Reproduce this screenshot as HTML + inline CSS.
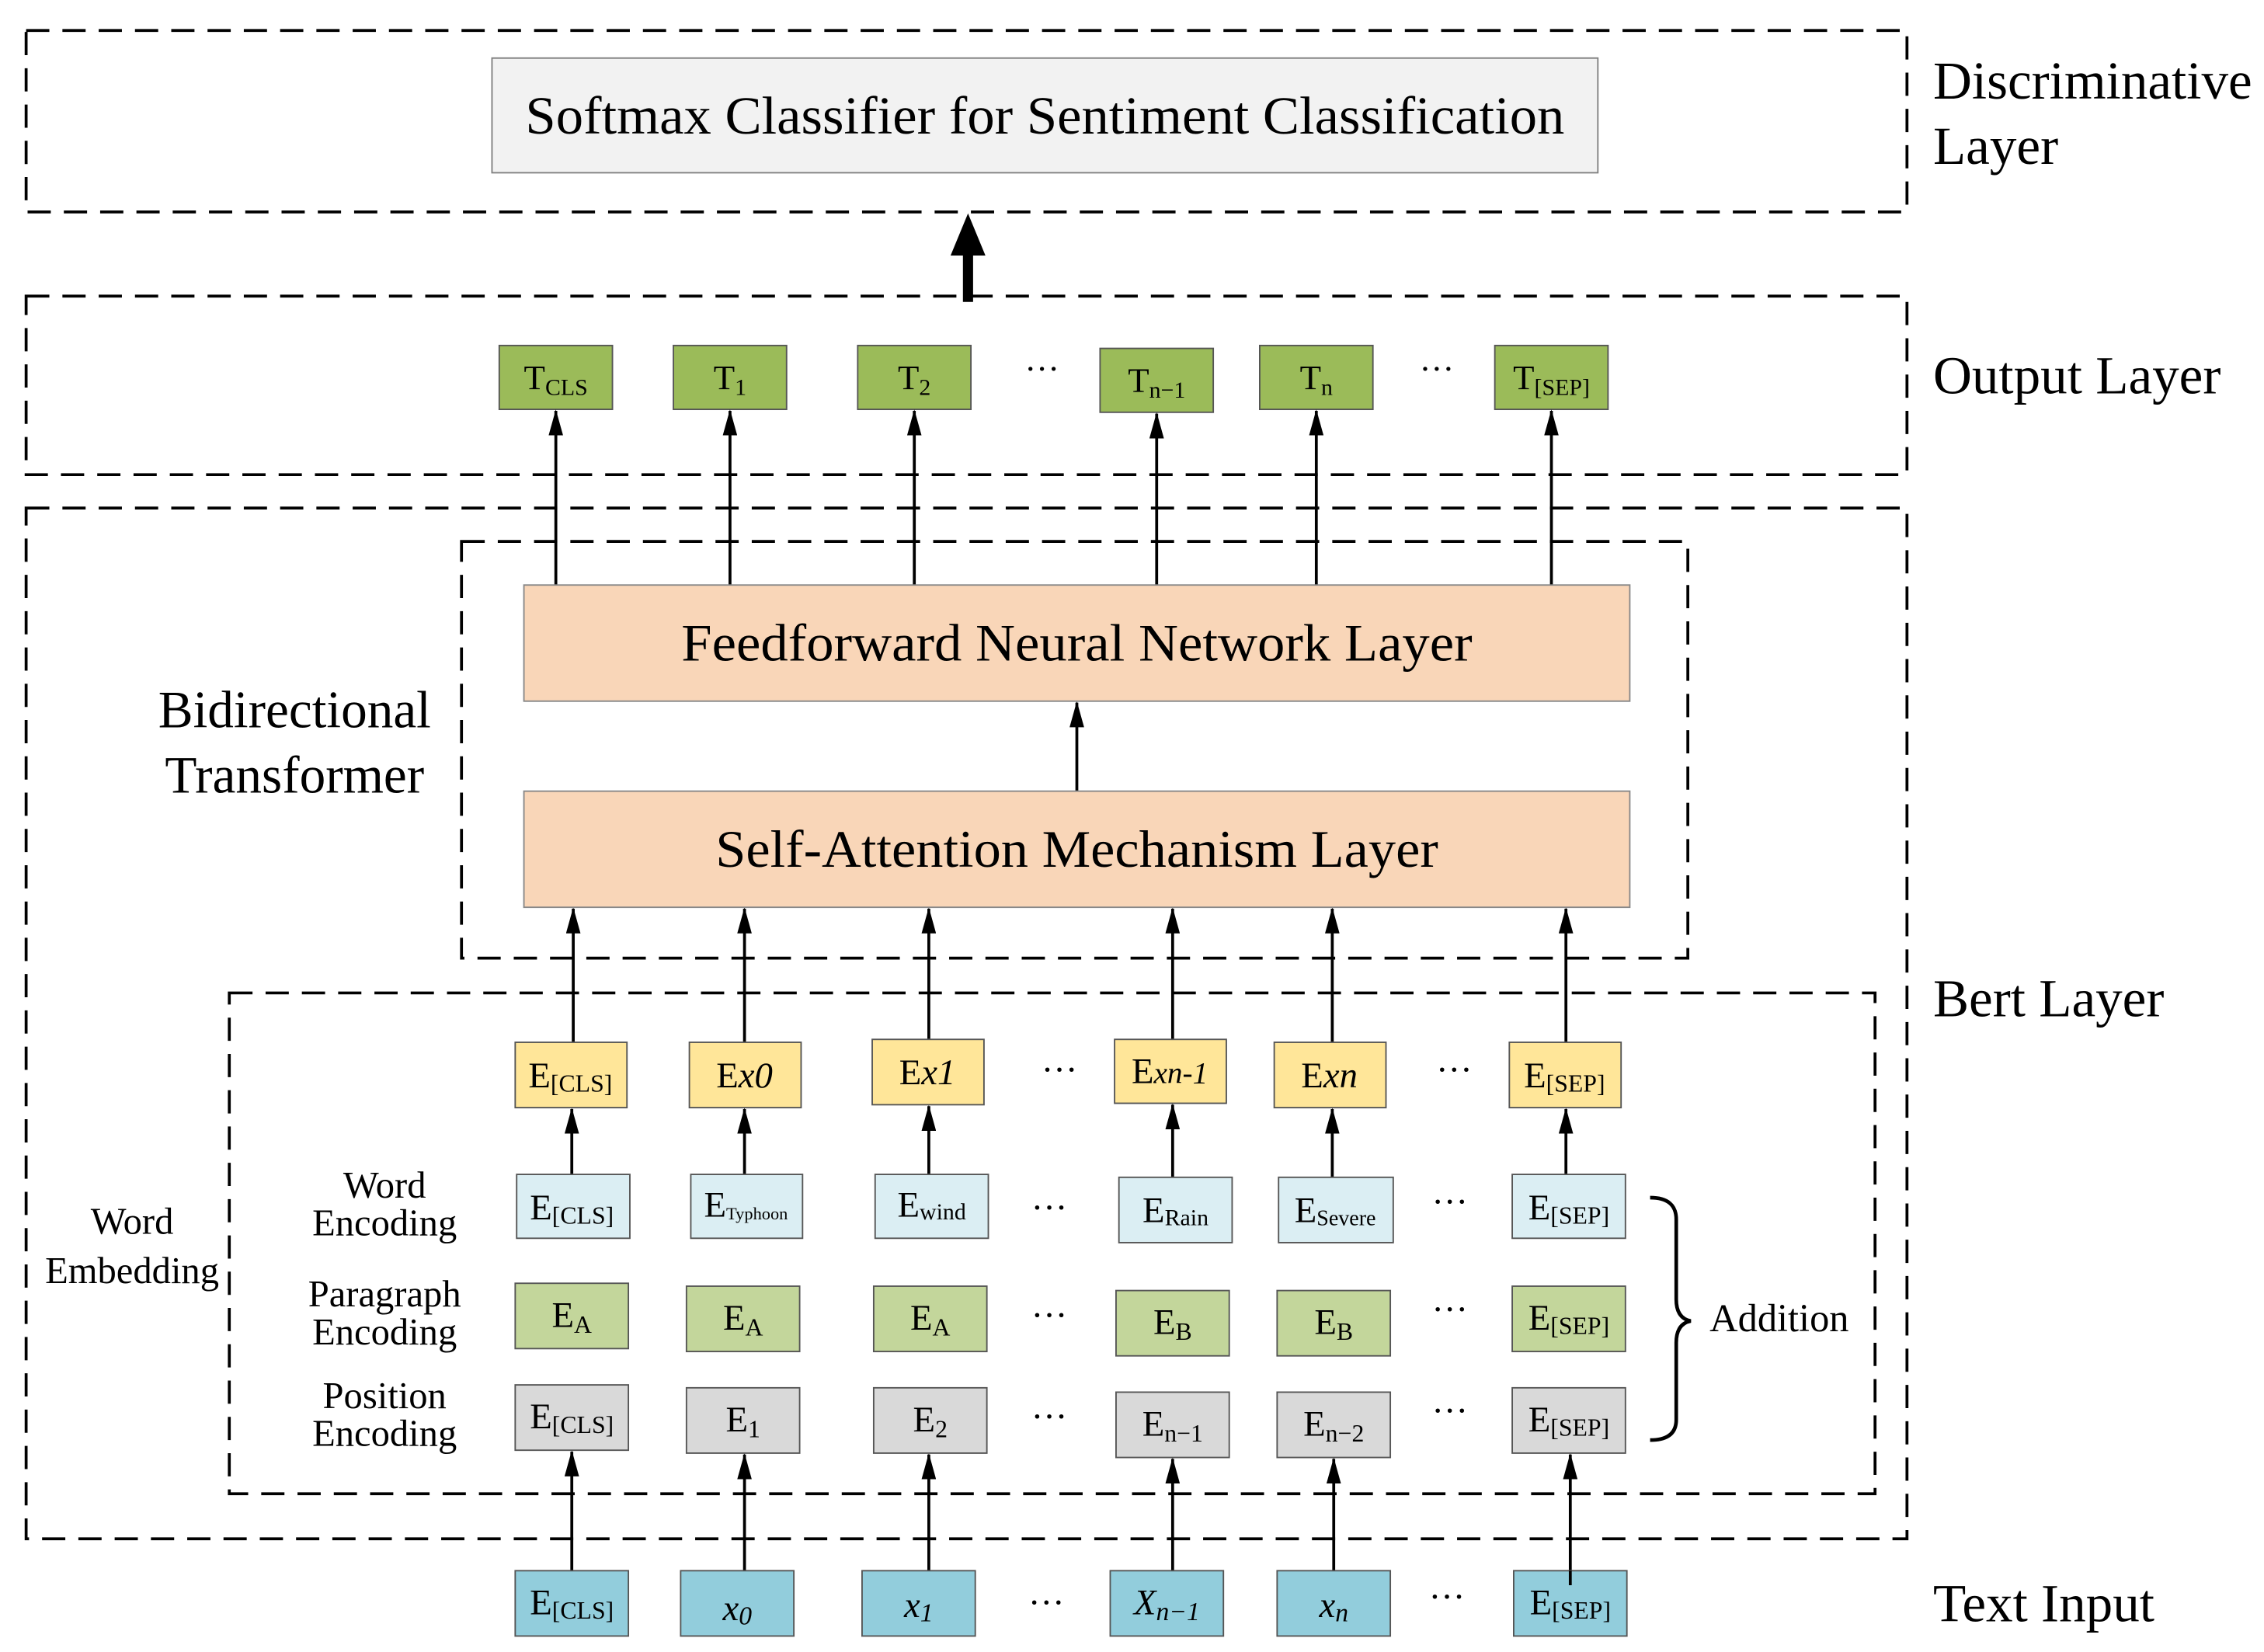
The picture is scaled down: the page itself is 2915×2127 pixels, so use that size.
<!DOCTYPE html>
<html><head><meta charset="utf-8"><style>
html,body{margin:0;padding:0;background:#fff}
svg{display:block}
text{font-family:"Liberation Serif",serif;fill:#000}
</style></head><body>
<svg width="2915" height="2127" viewBox="0 0 1560 1138" preserveAspectRatio="none" xmlns="http://www.w3.org/2000/svg">
<defs>
<marker id="ah" markerWidth="18" markerHeight="10" refX="17" refY="5" orient="auto" markerUnits="userSpaceOnUse" viewBox="0 0 18 10">
<path d="M0,0 L18,5 L0,10 Z" fill="#000"/></marker>
</defs>
<g fill="none" stroke="#000" stroke-width="2" stroke-dasharray="16,9">
<rect x="18" y="21" width="1296" height="125"/>
<rect x="18" y="204" width="1296" height="123"/>
<rect x="18" y="350" width="1296" height="710"/>
<rect x="318" y="373" width="845" height="287"/>
<rect x="158" y="684" width="1134" height="345"/>
</g>
<rect x="339" y="40" width="762" height="79" fill="#f2f2f2" stroke="#808080"/>
<text x="720" y="92" font-size="37" text-anchor="middle" textLength="716" lengthAdjust="spacingAndGlyphs">Softmax Classifier for Sentiment Classification</text>
<line x1="667" y1="208" x2="667" y2="170" stroke="#000" stroke-width="7"/>
<path d="M655,176 L667,147 L679,176 Z" fill="#000"/>
<g fill="#9bbb59" stroke="#555">
<rect x="344" y="238" width="78" height="44"/><rect x="464" y="238" width="78" height="44"/>
<rect x="591" y="238" width="78" height="44"/><rect x="758" y="240" width="78" height="44"/>
<rect x="868" y="238" width="78" height="44"/><rect x="1030" y="238" width="78" height="44"/>
</g>
<g font-size="24" text-anchor="middle">
<text x="383" y="268">T<tspan font-size="16" dy="4">CLS</tspan></text>
<text x="503" y="268">T<tspan font-size="16" dy="4">1</tspan></text>
<text x="630" y="268">T<tspan font-size="16" dy="4">2</tspan></text>
<text x="797" y="270">T<tspan font-size="16" dy="4">n−1</tspan></text>
<text x="907" y="268">T<tspan font-size="16" dy="4">n</tspan></text>
<text x="1069" y="268">T<tspan font-size="16" dy="4">[SEP]</tspan></text>
<text x="718" y="262">···</text><text x="990" y="262">···</text>
</g>
<g stroke="#000" stroke-width="2" marker-end="url(#ah)">
<line x1="383" y1="403" x2="383" y2="283"/><line x1="503" y1="403" x2="503" y2="283"/>
<line x1="630" y1="403" x2="630" y2="283"/><line x1="797" y1="403" x2="797" y2="285"/>
<line x1="907" y1="403" x2="907" y2="283"/><line x1="1069" y1="403" x2="1069" y2="283"/>
<line x1="742" y1="545" x2="742" y2="484"/>
<line x1="395" y1="718" x2="395" y2="626"/><line x1="513" y1="718" x2="513" y2="626"/>
<line x1="640" y1="716" x2="640" y2="626"/><line x1="808" y1="716" x2="808" y2="626"/>
<line x1="918" y1="718" x2="918" y2="626"/><line x1="1079" y1="718" x2="1079" y2="626"/>
<line x1="394" y1="809" x2="394" y2="764"/><line x1="513" y1="809" x2="513" y2="764"/>
<line x1="640" y1="809" x2="640" y2="762"/><line x1="808" y1="811" x2="808" y2="761"/>
<line x1="918" y1="811" x2="918" y2="764"/><line x1="1079" y1="809" x2="1079" y2="764"/>
<line x1="394" y1="1082" x2="394" y2="1000"/><line x1="513" y1="1082" x2="513" y2="1002"/>
<line x1="640" y1="1082" x2="640" y2="1002"/><line x1="808" y1="1082" x2="808" y2="1005"/>
<line x1="919" y1="1082" x2="919" y2="1005"/><line x1="1082" y1="1092" x2="1082" y2="1002"/>
</g>
<rect x="361" y="403" width="762" height="80" fill="#f9d6b8" stroke="#888"/>
<rect x="361" y="545" width="762" height="80" fill="#f9d6b8" stroke="#888"/>
<text x="742" y="455" font-size="36" text-anchor="middle" textLength="545" lengthAdjust="spacingAndGlyphs">Feedforward Neural Network Layer</text>
<text x="742" y="597" font-size="36" text-anchor="middle" textLength="498" lengthAdjust="spacingAndGlyphs">Self-Attention Mechanism Layer</text>
<g fill="#ffe699" stroke="#555">
<rect x="355" y="718" width="77" height="45"/><rect x="475" y="718" width="77" height="45"/>
<rect x="601" y="716" width="77" height="45"/><rect x="768" y="716" width="77" height="44"/>
<rect x="878" y="718" width="77" height="45"/><rect x="1040" y="718" width="77" height="45"/>
</g>
<g fill="#dbeef3" stroke="#555">
<rect x="356" y="809" width="78" height="44"/><rect x="476" y="809" width="77" height="44"/>
<rect x="603" y="809" width="78" height="44"/><rect x="771" y="811" width="78" height="45"/>
<rect x="881" y="811" width="79" height="45"/><rect x="1042" y="809" width="78" height="44"/>
</g>
<g fill="#c3d69b" stroke="#555">
<rect x="355" y="884" width="78" height="45"/><rect x="473" y="886" width="78" height="45"/>
<rect x="602" y="886" width="78" height="45"/><rect x="769" y="889" width="78" height="45"/>
<rect x="880" y="889" width="78" height="45"/><rect x="1042" y="886" width="78" height="45"/>
</g>
<g fill="#d9d9d9" stroke="#555">
<rect x="355" y="954" width="78" height="45"/><rect x="473" y="956" width="78" height="45"/>
<rect x="602" y="956" width="78" height="45"/><rect x="769" y="959" width="78" height="45"/>
<rect x="880" y="959" width="78" height="45"/><rect x="1042" y="956" width="78" height="45"/>
</g>
<g fill="#92cddc" stroke="#555">
<rect x="355" y="1082" width="78" height="45"/><rect x="469" y="1082" width="78" height="45"/>
<rect x="594" y="1082" width="78" height="45"/><rect x="765" y="1082" width="78" height="45"/>
<rect x="880" y="1082" width="78" height="45"/><rect x="1043" y="1082" width="78" height="45"/>
</g>
<line x1="1082" y1="1082" x2="1082" y2="1092" stroke="#000" stroke-width="2"/>
<g font-size="25" text-anchor="middle">
<text x="393" y="749">E<tspan font-size="17" dy="3">[CLS]</tspan></text>
<text x="513" y="749">E<tspan font-style="italic">x0</tspan></text>
<text x="639" y="747">E<tspan font-style="italic">x1</tspan></text>
<text x="806" y="746">E<tspan font-style="italic" font-size="21">xn-1</tspan></text>
<text x="916" y="749">E<tspan font-style="italic">xn</tspan></text>
<text x="1078" y="749">E<tspan font-size="17" dy="3">[SEP]</tspan></text>
<text x="730" y="745">···</text><text x="1002" y="745">···</text>

<text x="394" y="840">E<tspan font-size="17" dy="3">[CLS]</tspan></text>
<text x="514" y="838">E<tspan font-size="12" dy="2">Typhoon</tspan></text>
<text x="642" y="838">E<tspan font-size="16" dy="2">wind</tspan></text>
<text x="810" y="842">E<tspan font-size="16" dy="2">Rain</tspan></text>
<text x="920" y="842">E<tspan font-size="15" dy="2">Severe</tspan></text>
<text x="1081" y="840">E<tspan font-size="17" dy="3">[SEP]</tspan></text>
<text x="723" y="840">···</text><text x="999" y="836">···</text>

<text x="394" y="914">E<tspan font-size="17" dy="4">A</tspan></text>
<text x="512" y="916">E<tspan font-size="17" dy="4">A</tspan></text>
<text x="641" y="916">E<tspan font-size="17" dy="4">A</tspan></text>
<text x="808" y="919">E<tspan font-size="17" dy="4">B</tspan></text>
<text x="919" y="919">E<tspan font-size="17" dy="4">B</tspan></text>
<text x="1081" y="916">E<tspan font-size="17" dy="3">[SEP]</tspan></text>
<text x="723" y="914">···</text><text x="999" y="910">···</text>

<text x="394" y="984">E<tspan font-size="17" dy="3">[CLS]</tspan></text>
<text x="512" y="986">E<tspan font-size="17" dy="4">1</tspan></text>
<text x="641" y="986">E<tspan font-size="17" dy="4">2</tspan></text>
<text x="808" y="989">E<tspan font-size="17" dy="4">n−1</tspan></text>
<text x="919" y="989">E<tspan font-size="17" dy="4">n−2</tspan></text>
<text x="1081" y="986">E<tspan font-size="17" dy="3">[SEP]</tspan></text>
<text x="723" y="984">···</text><text x="999" y="980">···</text>

<text x="394" y="1112">E<tspan font-size="17" dy="3">[CLS]</tspan></text>
<text x="508" y="1116" font-style="italic">x<tspan font-size="18" dy="3">0</tspan></text>
<text x="633" y="1114" font-style="italic">x<tspan font-size="18" dy="3">1</tspan></text>
<text x="804" y="1112" font-style="italic">X<tspan font-size="18" dy="4">n−1</tspan></text>
<text x="919" y="1114" font-style="italic">x<tspan font-size="18" dy="3">n</tspan></text>
<text x="1082" y="1112">E<tspan font-size="17" dy="3">[SEP]</tspan></text>
<text x="721" y="1112">···</text><text x="997" y="1108">···</text>
</g>
<g font-size="26" text-anchor="middle">
<text x="265" y="825">Word</text><text x="265" y="851">Encoding</text>
<text x="265" y="900">Paragraph</text><text x="265" y="926">Encoding</text>
<text x="265" y="970">Position</text><text x="265" y="996">Encoding</text>
<text x="91" y="850">Word</text><text x="91" y="884">Embedding</text>
</g>
<g font-size="36" text-anchor="middle">
<text x="203" y="501">Bidirectional</text><text x="203" y="546">Transformer</text>
</g>
<g font-size="37">
<text x="1332" y="68">Discriminative</text><text x="1332" y="113">Layer</text>
<text x="1332" y="271">Output Layer</text>
<text x="1332" y="700">Bert Layer</text>
<text x="1332" y="1117">Text Input</text>
</g>
<text x="1178" y="917" font-size="27">Addition</text>
<path d="M1137,825 Q1155,825 1155,840 L1155,895 Q1155,908 1165,910 Q1155,912 1155,925 L1155,978 Q1155,992 1137,992" fill="none" stroke="#000" stroke-width="2.5"/>
</svg>
</body></html>
